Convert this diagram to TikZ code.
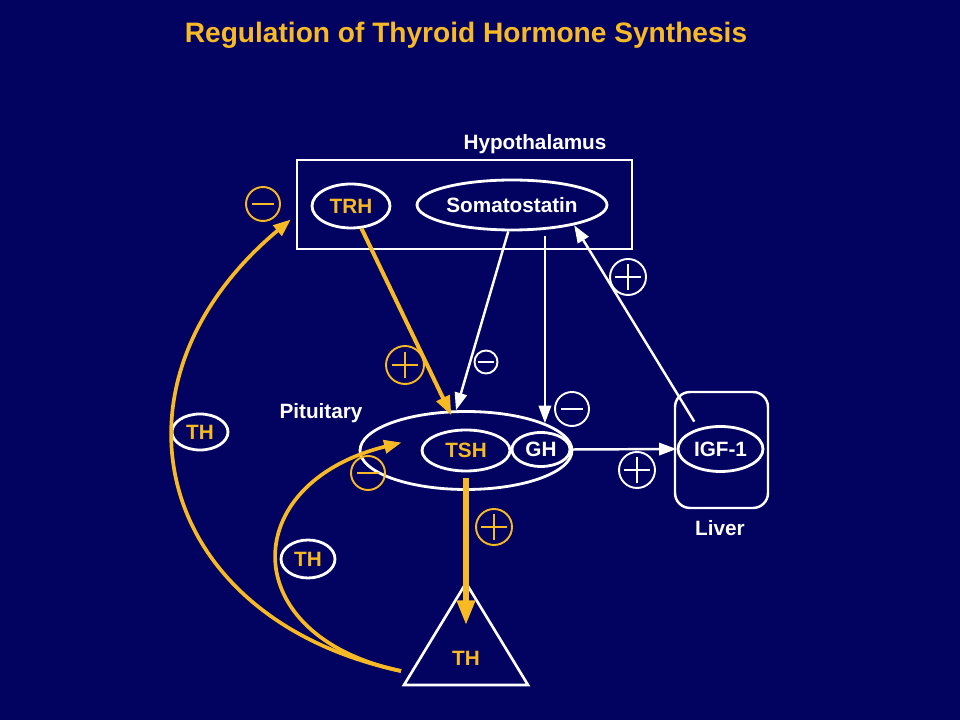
\documentclass[tikz,border=0pt]{standalone}
\usepackage{fontspec}
\setmainfont{Liberation Sans}
\usetikzlibrary{arrows.meta,shapes.geometric,calc}

\definecolor{hgblau}{RGB}{2,2,96}
\definecolor{gelb}{RGB}{248,186,36}

\tikzset{
  schrift/.style={font=\bfseries\fontsize{11.8}{14}\selectfont},
  oval/.style={ellipse, draw=white, line width=1.6pt, inner sep=0pt, schrift},
  zeichen/.style={circle, draw=#1, line width=1.1pt, inner sep=0pt, minimum size=0.7cm},
  plusz/.style={zeichen=#1, path picture={
      \draw[#1, line width=1.1pt]
        ($(path picture bounding box.west)!0.15!(path picture bounding box.east)$) --
        ($(path picture bounding box.west)!0.85!(path picture bounding box.east)$)
        ($(path picture bounding box.south)!0.15!(path picture bounding box.north)$) --
        ($(path picture bounding box.south)!0.85!(path picture bounding box.north)$);}},
  minusz/.style={zeichen=#1, path picture={
      \draw[#1, line width=1.1pt]
        ($(path picture bounding box.west)!0.17!(path picture bounding box.east)$) --
        ($(path picture bounding box.west)!0.83!(path picture bounding box.east)$);}},
  wpfeil/.style={white, line width=1.4pt, -{Triangle[length=10pt,width=7pt]}},
  gpfeil/.style={gelb, line width=2.3pt, -{Triangle[length=11pt,width=8pt]}},
  gbogen/.style={gelb, line width=2.1pt, -{Triangle[length=10pt,width=7.5pt]}},
}

\begin{document}
\begin{tikzpicture}[x=0.02cm,y=0.02cm]
  \fill[hgblau] (0,0) rectangle (960,720);

  \node[schrift, text=gelb, font=\bfseries\fontsize{16}{18}\selectfont] (titel) at (466,685)
    {Regulation of Thyroid Hormone Synthesis};

  % Hypothalamus
  \node[draw=white, line width=1.4pt, minimum width=6.7cm, minimum height=1.78cm,
    inner sep=0pt] (hyp) at (464.5,515.5) {};
  \node[schrift, text=white] (hyplab) at (535,576) {Hypothalamus};
  \node[oval, text=gelb, minimum width=1.56cm, minimum height=0.88cm] (trh) at (351,514) {TRH};
  \node[oval, text=white, minimum width=3.8cm, minimum height=1cm] (som) at (512,515) {Somatostatin};

  % Hypophyse
  \node[oval, minimum width=4.24cm, minimum height=1.56cm] (pit) at (466,269.5) {};
  \node[schrift, text=white] (pitlab) at (321,307) {Pituitary};
  \node[oval, text=gelb, minimum width=1.76cm, minimum height=0.82cm] (tsh) at (466,269.5) {TSH};
  \node[oval, text=white, minimum width=1.16cm, minimum height=0.68cm] (gh) at (541,270.5) {GH};

  % Leber
  \node[draw=white, line width=1.4pt, rounded corners=0.3cm, minimum width=1.86cm,
    minimum height=2.32cm, inner sep=0pt] (leber) at (721.5,270) {};
  \node[oval, text=white, minimum width=1.7cm, minimum height=0.9cm] (igf) at (720.5,271) {IGF-1};
  \node[schrift, text=white] (leblab) at (720,192) {Liver};

  % Schilddruese
  \coordinate (spitze) at (466,137);
  \draw[white, line width=1.5pt] (spitze) -- ++(62,-102) -- ++(-124,0) -- cycle;
  \node[schrift, text=gelb] (thd) at (466,62) {TH};

  \node[oval, text=gelb, minimum width=1.12cm, minimum height=0.72cm] (th1) at (200,288) {TH};
  \node[oval, text=gelb, minimum width=1.08cm, minimum height=0.76cm] (th2) at (308,161) {TH};

  % Pfeile
  \draw[gpfeil, shorten >=-3pt] (trh.-65) -- (pit.113);
  \draw[wpfeil] (som.-98) -- (pit.104);
  \draw[wpfeil, shorten <=3.5pt] (som.-37) -- (som.-37 |- pit.19);
  \draw[wpfeil, shorten <=4.5pt] (igf.137) -- (som.-18);
  \draw[wpfeil] (gh.east) -- (igf.west);
  \draw[gelb, line width=3pt, -{Triangle[length=14pt,width=10pt]}, shorten <=3pt]
    (tsh.south) -- ($(spitze)+(0,-42)$);

  % Rueckkopplung
  \coordinate (fuss) at (401,49);
  \draw[gbogen] (fuss) .. controls +(-248,53) and +(-195,-163) .. ($(hyp.west)+(-5,-15)$);
  \draw[gbogen] (fuss) .. controls +(-166,35) and +(-165,-41) .. ($(tsh.west)+(-19,8)$);

  % Vorzeichen
  \node[minusz=gelb, minimum size=0.68cm] (m1) at (263,516) {};
  \node[plusz=white, minimum size=0.72cm] (p1) at (628,443) {};
  \node[plusz=gelb, minimum size=0.76cm] (p2) at (405,355) {};
  \node[minusz=white, minimum size=0.46cm] (m2) at (486,358) {};
  \node[minusz=white, minimum size=0.68cm] (m3) at (572,311) {};
  \node[minusz=gelb, minimum size=0.68cm] (m4) at (368,247) {};
  \node[plusz=gelb, minimum size=0.72cm] (p3) at (494,193) {};
  \node[plusz=white, minimum size=0.72cm] (p4) at (637,250) {};
\end{tikzpicture}
\end{document}
